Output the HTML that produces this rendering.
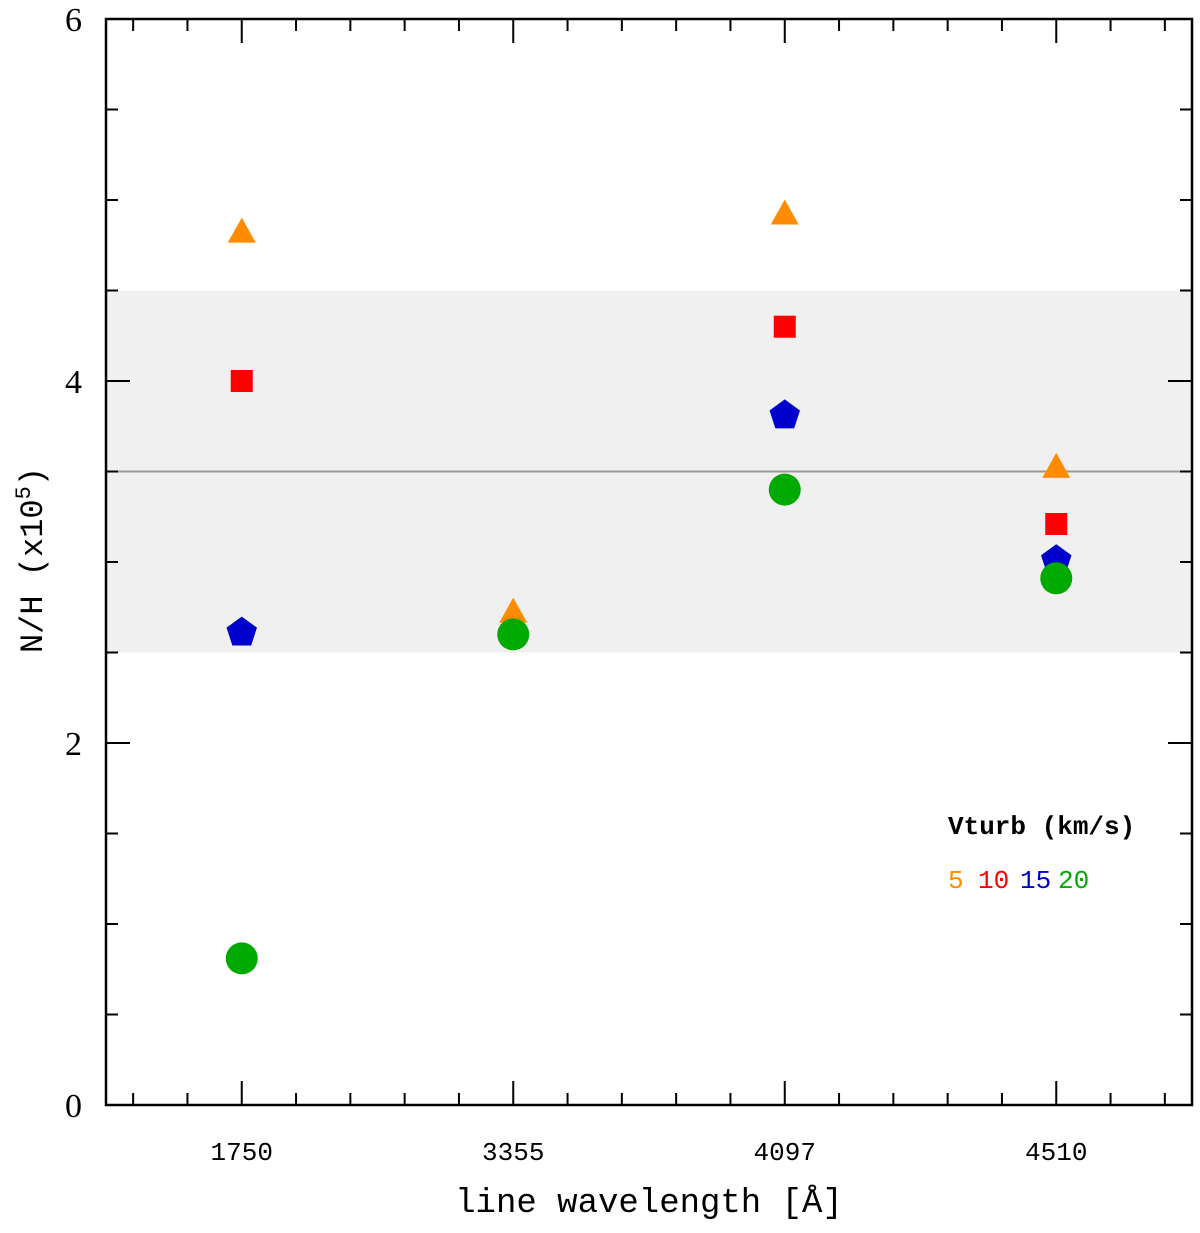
<!DOCTYPE html>
<html><head><meta charset="utf-8"><style>
body{margin:0;background:#fff}
</style></head><body>
<svg id="chart" width="1200" height="1228" xmlns="http://www.w3.org/2000/svg">
<g id="g"></g>
</svg>
<script>
const categories=["1750","3355","4097","4510"];
const vt5=[4.82,2.72,4.92,3.52];
const vt10=[4.0,2.6,4.3,3.21];
const vt15=[2.61,2.6,3.81,3.01];
const vt20=[0.81,2.6,3.4,2.91];
const yTicks=[0,2,4,6];
const bandLow=2.5, bandHigh=4.5, meanVal=3.5;

const L=106,R=1192,T=19,B=1105;
const X=i=>L+(i+0.5)*(R-L)/4;
const Y=v=>B-(v/6)*(B-T);
const NS="http://www.w3.org/2000/svg";
const MONO='Liberation Mono, monospace', SERIF='Liberation Serif, serif';
const g=document.getElementById('g');
function el(tag,attrs){const e=document.createElementNS(NS,tag);for(const k in attrs)e.setAttribute(k,attrs[k]);g.appendChild(e);return e;}

let band=el('rect',{x:L,y:Y(bandHigh),width:R-L,height:Y(bandLow)-Y(bandHigh),fill:'#f0f0f0'});


let ml=el('line',{x1:L,x2:R,y1:Y(meanVal),y2:Y(meanVal),stroke:'#999','stroke-width':2});



const step=(R-L)/20;
for(let k=0;k<20;k++){
  const x=L+step/2+k*step;
  const isMaj=((k-2)%5===0);
  const len=isMaj?24:12;
  let t1=el('line',{x1:x,x2:x,y1:B,y2:B-len,stroke:'#000','stroke-width':2});
  
  
  let t2=el('line',{x1:x,x2:x,y1:T,y2:T+len,stroke:'#000','stroke-width':2});
  
  
}
for(let v=0.5;v<6;v+=0.5){
  const y=Y(v), len=(v%2===0)?24:12;
  let t1=el('line',{x1:L,x2:L+len,y1:y,y2:y,stroke:'#000','stroke-width':2});
  
  
  let t2=el('line',{x1:R,x2:R-len,y1:y,y2:y,stroke:'#000','stroke-width':2});
  
  
}
yTicks.forEach(v=>{
  let t=el('text',{x:L-24,y:Y(v)+12,'text-anchor':'end','font-size':34,'font-family':SERIF});
  t.textContent=v;
  
  
});
categories.forEach((c,i)=>{
  let t=el('text',{x:X(i),y:1160,'text-anchor':'middle','font-size':26,'font-family':MONO});
  t.textContent=c;
  
  
});
let fr=el('rect',{x:L,y:T,width:R-L,height:B-T,fill:'none',stroke:'#000','stroke-width':2.5});



let xt=el('text',{x:(L+R)/2,y:1212,'text-anchor':'middle','font-size':34,'font-family':MONO});
xt.textContent='line wavelength [Å]';


let yt=el('text',{x:0,y:0,'text-anchor':'middle','font-size':32,'font-family':MONO,transform:'translate(42,560) rotate(-90)'});
yt.innerHTML='N/H (x10<tspan dy="-12" font-size="22">5</tspan><tspan dy="12">)</tspan>';



function tri(i,v){const x=X(i),y=Y(v);let p=el('polygon',{points:`${x},${y-15} ${x-14},${y+10} ${x+14},${y+10}`,fill:'#ff8c00'});

}
function sq(i,v){const x=X(i),y=Y(v);let p=el('rect',{x:x-11,y:y-11,width:22,height:22,fill:'#ff0000'});

}
function pent(i,v){const x=X(i),y=Y(v);const r=16;let pts=[];for(let k=0;k<5;k++){const a=-Math.PI/2+k*2*Math.PI/5;pts.push((x+r*Math.cos(a))+','+(y+r*Math.sin(a)));}
let p=el('polygon',{points:pts.join(' '),fill:'#0000cc'});

}
function circ(i,v){let p=el('circle',{cx:X(i),cy:Y(v),r:16,fill:'#00aa00'});

}
categories.forEach((c,i)=>{tri(i,vt5[i]);sq(i,vt10[i]);pent(i,vt15[i]);circ(i,vt20[i]);});

let lt=el('text',{x:948,y:834,'font-size':26,'font-weight':'bold','font-family':MONO});
lt.textContent='Vturb (km/s)';


const legCols=[['5','#ff8c00',948],['10','#ff0000',978],['15','#0000cc',1020],['20','#00aa00',1058]];
legCols.forEach(([s,c,x])=>{let t=el('text',{x:x,y:888,'font-size':26,fill:c,'font-family':MONO});t.textContent=s;

});
</script>
</body></html>
